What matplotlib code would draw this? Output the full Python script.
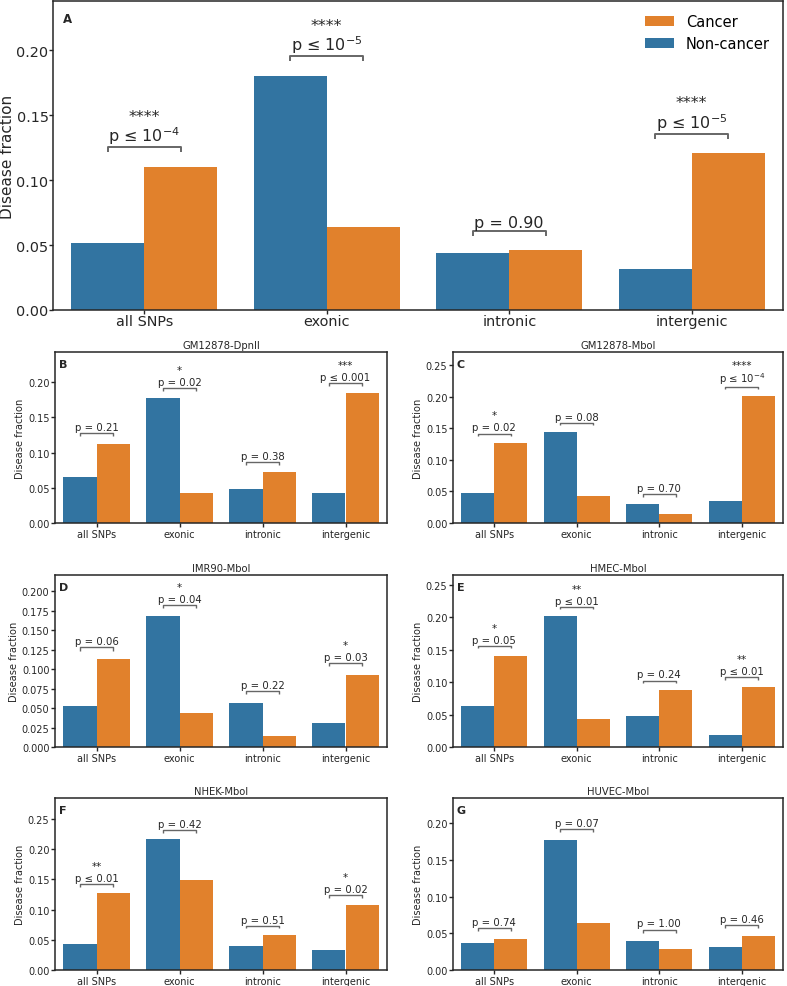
import numpy as np
import matplotlib
matplotlib.use("Agg")
import matplotlib.pyplot as plt
from matplotlib.ticker import MultipleLocator, FormatStrFormatter

categories = ['all SNPs', 'exonic', 'intronic', 'intergenic']

# Panel A (all)
a_noncancer = [0.0513, 0.1803, 0.0438, 0.0318]
a_cancer = [0.1103, 0.0636, 0.0459, 0.1205]
a_pvals = [r'p ≤ $10^{-4}$', r'p ≤ $10^{-5}$', 'p = 0.90', r'p ≤ $10^{-5}$']
a_stars = ['****', '****', '', '****']

# Sub panels
titles = ['GM12878-DpnII', 'GM12878-MboI', 'IMR90-MboI', 'HMEC-MboI', 'NHEK-MboI', 'HUVEC-MboI']
letters = ['B', 'C', 'D', 'E', 'F', 'G']
b_noncancer = [0.0659, 0.1773, 0.0479, 0.0431]
b_cancer = [0.1123, 0.0422, 0.0720, 0.1844]
c_noncancer = [0.0475, 0.1435, 0.0306, 0.0343]
c_cancer = [0.1266, 0.0422, 0.0142, 0.2004]
d_noncancer = [0.0532, 0.1678, 0.0571, 0.0313]
d_cancer = [0.1129, 0.0433, 0.0146, 0.0927]
e_noncancer = [0.0639, 0.2015, 0.0485, 0.0186]
e_cancer = [0.1412, 0.0428, 0.0876, 0.0923]
f_noncancer = [0.0426, 0.2163, 0.0398, 0.0337]
f_cancer = [0.1272, 0.1493, 0.0581, 0.1084]
g_noncancer = [0.0373, 0.1773, 0.0400, 0.0309]
g_cancer = [0.0423, 0.0641, 0.0291, 0.0459]

b_pvals = ['p = 0.21', 'p = 0.02', 'p = 0.38', 'p ≤ 0.001']
b_stars = ['', '*', '', '***']
c_pvals = ['p = 0.02', 'p = 0.08', 'p = 0.70', r'p ≤ $10^{-4}$']
c_stars = ['*', '', '', '****']
d_pvals = ['p = 0.06', 'p = 0.04', 'p = 0.22', 'p = 0.03']
d_stars = ['', '*', '', '*']
e_pvals = ['p = 0.05', 'p ≤ 0.01', 'p = 0.24', 'p ≤ 0.01']
e_stars = ['*', '**', '', '**']
f_pvals = ['p ≤ 0.01', 'p = 0.42', 'p = 0.51', 'p = 0.02']
f_stars = ['**', '', '', '*']
g_pvals = ['p = 0.74', 'p = 0.07', 'p = 1.00', 'p = 0.46']
g_stars = ['', '', '', '']

NC_COLOR = '#3274a1'
C_COLOR = '#e1812c'
TXT = '0.15'

plt.rcParams['font.family'] = ['DejaVu Sans']


def style_axes(ax, labelsize, length, pad):
    for s in ax.spines.values():
        s.set_color(TXT)
        s.set_linewidth(1.1)
    ax.tick_params(colors=TXT, width=1.0, length=length, pad=pad, labelsize=labelsize)


def draw(ax, nc, c, pvals, stars, pfs, star_off, math_extra, blw):
    x = np.arange(len(categories))
    h_nc = ax.bar(x - 0.2, nc, 0.4, color=NC_COLOR, label='Non-cancer')
    h_c = ax.bar(x + 0.2, c, 0.4, color=C_COLOR, label='Cancer')
    for i in range(len(categories)):
        y = max(nc[i], c[i]) + 0.015
        ax.plot([i - 0.2, i - 0.2, i + 0.2, i + 0.2], [y - 0.004, y, y, y - 0.004],
                color='0.4', lw=blw, solid_capstyle='butt')
        ax.annotate(pvals[i], (i, y), xytext=(0, 0.8), textcoords='offset points',
                    ha='center', va='bottom', fontsize=pfs, color=TXT)
        if stars[i]:
            off = star_off + (math_extra if '$' in pvals[i] else 0)
            ax.annotate(stars[i], (i, y), xytext=(0, off), textcoords='offset points',
                        ha='center', va='bottom', fontsize=pfs, color=TXT)
    ax.set_xlim(-0.5, 3.5)
    ax.set_xticks(x)
    ax.set_xticklabels(categories)
    return h_nc, h_c


fig = plt.figure(figsize=(7.87, 9.87), dpi=100)

W, H = 787.0, 987.0


def add_axes(l, r, t, b):
    return fig.add_axes([l / W, 1 - b / H, (r - l) / W, (b - t) / H])


# Panel A
axA = add_axes(53, 783, 2, 311)
h_nc, h_c = draw(axA, a_noncancer, a_cancer, a_pvals, a_stars, 11.5, 17, 0, 1.4)
axA.set_ylim(0, 0.2377)
axA.yaxis.set_major_locator(MultipleLocator(0.05))
axA.yaxis.set_major_formatter(FormatStrFormatter('%.2f'))
axA.set_ylabel('Disease fraction', fontsize=11, color=TXT, labelpad=1)
axA.legend(handles=[h_c, h_nc], labels=['Cancer', 'Non-cancer'], loc='upper right',
           frameon=False, fontsize=10.5)
axA.text(0.013, 0.965, 'A', transform=axA.transAxes, fontsize=8.5, fontweight='bold',
         va='top', ha='left', color=TXT)
style_axes(axA, 10.4, 2.6, 0.6)

rows = [(353, 524), (576, 748), (799, 971)]
cols = [(55, 387), (453, 783)]
data = [
    (b_noncancer, b_cancer, b_pvals, b_stars, 0.2431, 0.05, '%.2f'),
    (c_noncancer, c_cancer, c_pvals, c_stars, 0.2706, 0.05, '%.2f'),
    (d_noncancer, d_cancer, d_pvals, d_stars, 0.2210, 0.025, '%.3f'),
    (e_noncancer, e_cancer, e_pvals, e_stars, 0.2655, 0.05, '%.2f'),
    (f_noncancer, f_cancer, f_pvals, f_stars, 0.2848, 0.05, '%.2f'),
    (g_noncancer, g_cancer, g_pvals, g_stars, 0.2341, 0.05, '%.2f'),
]

for k, (nc, c, pv, st, top, step, fmt) in enumerate(data):
    t, b = rows[k // 2]
    l, r = cols[k % 2]
    ax = add_axes(l, r, t, b)
    draw(ax, nc, c, pv, st, 7.3, 9.5, 3.0, 1.0)
    ax.set_ylim(0, top)
    ax.yaxis.set_major_locator(MultipleLocator(step))
    ax.yaxis.set_major_formatter(FormatStrFormatter(fmt))
    ax.set_ylabel('Disease fraction', fontsize=7.1, color=TXT, labelpad=2)
    ax.set_title(titles[k], fontsize=7.2, pad=3, color=TXT)
    ax.text(0.012, 0.96, letters[k], transform=ax.transAxes, fontsize=8, fontweight='bold',
            va='top', ha='left', color=TXT)
    style_axes(ax, 7.0, 3.0, 1.0)

fig.savefig('out.png', dpi=100)
